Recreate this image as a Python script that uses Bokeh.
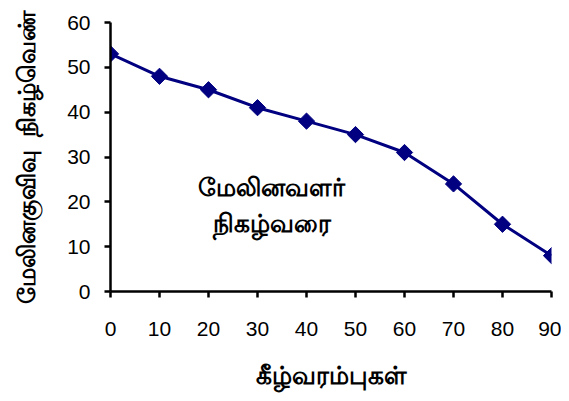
import math
from bokeh.plotting import figure
from bokeh.embed import file_html
from bokeh.resources import INLINE
from bokeh.models import Range1d, FixedTicker, Label

x_vals = [0, 10, 20, 30, 40, 50, 60, 70, 80, 90]
y_vals = [53, 48, 45, 41, 38, 35, 31, 24, 15, 8]
x_ticks = [0, 10, 20, 30, 40, 50, 60, 70, 80, 90]
y_ticks = [0, 10, 20, 30, 40, 50, 60]
x_title = "கீழ்வரம்புகள்"
y_title = "மேலினகுவிவு\u00a0\u00a0நிகழ்வெண்"
note_lines = ["மேலினவளர்", "நிகழ்வரை"]

TAMIL = "Noto Sans"

p = figure(width=561, height=393, output_backend="svg", toolbar_location=None,
           x_range=Range1d(0, 90), y_range=Range1d(0, 60),
           min_border_left=110, min_border_right=10, min_border_top=22, min_border_bottom=92)
p.outline_line_color = None
p.grid.visible = False
p.background_fill_color = "white"

p.line(x_vals, y_vals, line_color="#000080", line_width=3)
p.scatter(x_vals, y_vals, marker="square", angle=math.pi / 4, size=11.5,
          fill_color="#000080", line_color="#000080")

for ax in (p.xaxis[0], p.yaxis[0]):
    ax.axis_line_width = 2.5
    ax.axis_line_color = "black"
    ax.major_tick_line_width = 2.5
    ax.major_tick_out = 6
    ax.major_tick_in = 0
    ax.minor_tick_out = 0
    ax.minor_tick_in = 0
    ax.major_label_text_font = "Liberation Sans"
    ax.major_label_text_font_size = "21px"
    ax.major_label_text_color = "black"
    ax.axis_label_text_font = TAMIL
    ax.axis_label_text_font_size = "25px"
    ax.axis_label_text_font_style = "bold"
    ax.axis_label_text_color = "black"

p.yaxis[0].axis_label_text_font_size = "24px"
p.xaxis[0].ticker = FixedTicker(ticks=x_ticks)
p.yaxis[0].ticker = FixedTicker(ticks=y_ticks)
p.xaxis[0].major_label_standoff = 24
p.yaxis[0].major_label_standoff = 14
p.xaxis[0].axis_label = x_title
p.yaxis[0].axis_label = y_title
p.xaxis[0].axis_label_standoff = 18
p.yaxis[0].axis_label_standoff = 22

for i, t in enumerate(note_lines):
    p.add_layout(Label(x=32.9, y=23.6 - 8.1 * i, text=t, text_align="center", text_baseline="middle",
                       text_font=TAMIL, text_font_size="25px", text_font_style="bold",
                       text_color="black"))

open("out.html", "w").write(file_html(p, INLINE))
